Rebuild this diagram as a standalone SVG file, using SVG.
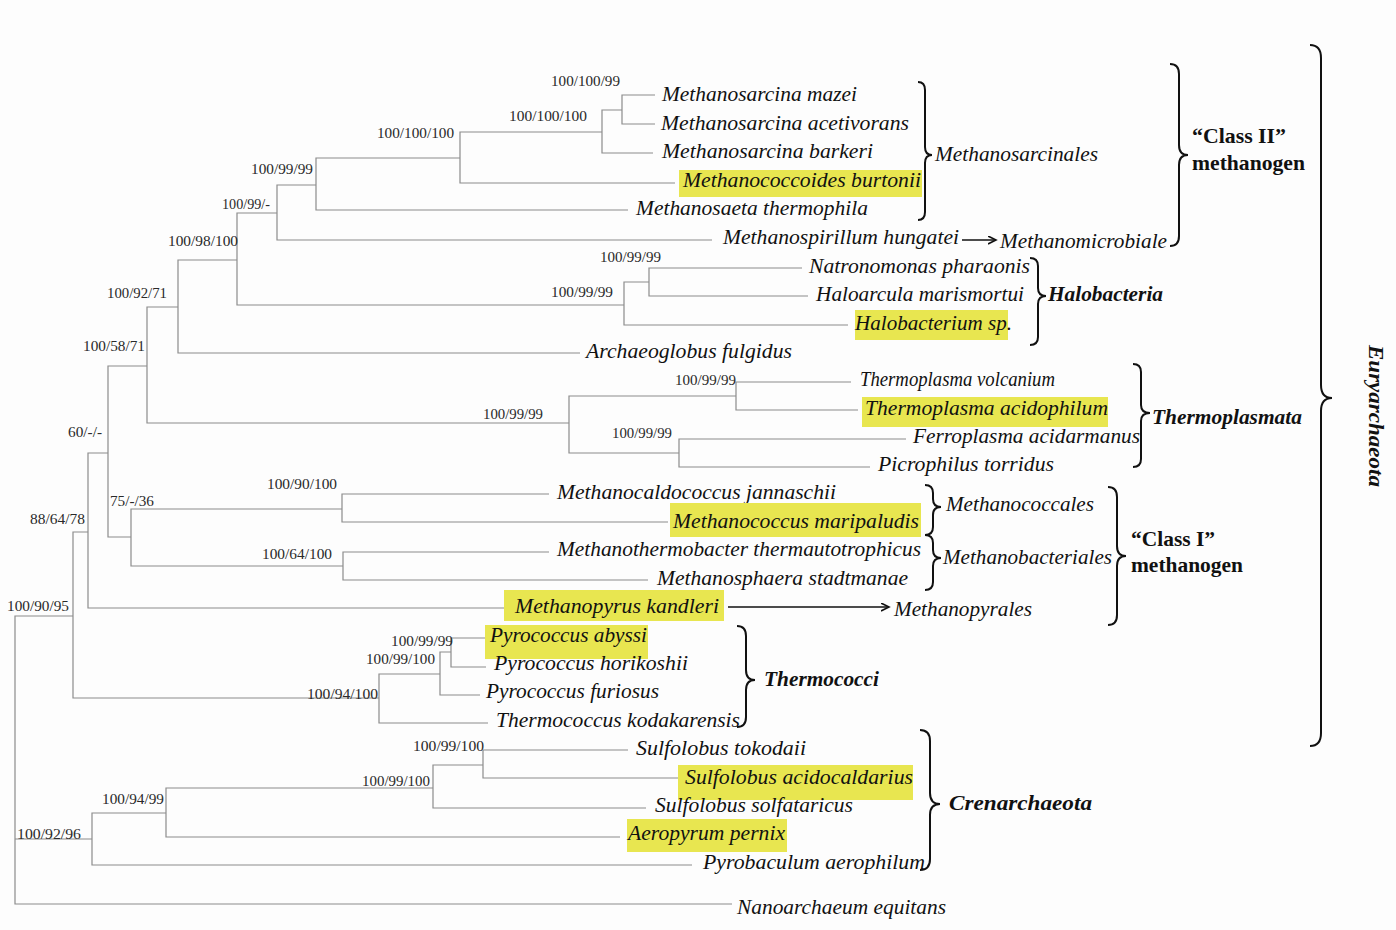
<svg xmlns="http://www.w3.org/2000/svg" width="1396" height="930" viewBox="0 0 1396 930">
<defs>
<style>
.br{fill:none;stroke:#8c8c8c;stroke-width:1.2}
.bs{font-family:"Liberation Serif",serif;font-size:14px;fill:#2a2a2a}
.tx{font-family:"Liberation Serif",serif;font-style:italic;font-size:21px;fill:#111}
.hl{fill:#e8e650}
.gi{font-family:"Liberation Serif",serif;font-style:italic;font-size:21px;fill:#111}
.gb{font-family:"Liberation Serif",serif;font-style:italic;font-weight:bold;font-size:21px;fill:#111}
.gc{font-family:"Liberation Serif",serif;font-weight:bold;font-size:21px;fill:#111}
.brace{fill:none;stroke:#111;stroke-width:2}
.arr{fill:none;stroke:#111;stroke-width:1.6}
</style>
<marker id="ah" markerWidth="10" markerHeight="10" refX="8" refY="4" orient="auto" markerUnits="userSpaceOnUse">
<path d="M0,0 L8,4 L0,8" fill="none" stroke="#111" stroke-width="1.6"/>
</marker>
</defs>
<rect width="1396" height="930" fill="#fdfdfd"/>

<g id="connectors">
<path class="br" d="M655,95 H622 V124 H655"/>
<path class="br" d="M622,110 H602 V153 H653"/>
<path class="br" d="M602,132 H460 V183 H675"/>
<path class="br" d="M460,158 H316 V210 H628"/>
<path class="br" d="M316,185 H277 V240 H712"/>
<path class="br" d="M802,268 H649 V296 H808"/>
<path class="br" d="M649,282 H624 V325 H848"/>
<path class="br" d="M277,213 H237 V305 H624"/>
<path class="br" d="M237,260 H178 V353 H580"/>
<path class="br" d="M851,382 H736 V410 H858"/>
<path class="br" d="M906,439 H679 V467 H870"/>
<path class="br" d="M736,396 H569 V453 H679"/>
<path class="br" d="M178,307 H147 V423 H569"/>
<path class="br" d="M549,494 H342 V522 H668"/>
<path class="br" d="M549,552 H343 V580 H648"/>
<path class="br" d="M342,509 H131 V566 H343"/>
<path class="br" d="M147,366 H108 V537 H131"/>
<path class="br" d="M108,453 H88 V608 H505"/>
<path class="br" d="M485,638 H451 V667 H486"/>
<path class="br" d="M451,652 H440 V695 H480"/>
<path class="br" d="M440,674 H379 V723 H488"/>
<path class="br" d="M88,532 H73 V698 H379"/>
<path class="br" d="M628,750 H483 V778 H678"/>
<path class="br" d="M483,765 H433 V808 H646"/>
<path class="br" d="M433,788 H166 V837 H620"/>
<path class="br" d="M166,813 H92 V865 H692"/>
<path class="br" d="M73,616 H15 V904 H732 M15,839 H92"/>
<line class="arr" x1="962" y1="240" x2="996" y2="240" marker-end="url(#ah)"/>
<line class="arr" x1="728" y1="607" x2="889" y2="607" marker-end="url(#ah)"/>
</g>

<g id="support-values">
<text class="bs" x="551" y="86" textLength="69" lengthAdjust="spacingAndGlyphs">100/100/99</text>
<text class="bs" x="509" y="121" textLength="78" lengthAdjust="spacingAndGlyphs">100/100/100</text>
<text class="bs" x="377" y="138" textLength="77" lengthAdjust="spacingAndGlyphs">100/100/100</text>
<text class="bs" x="251" y="174" textLength="62" lengthAdjust="spacingAndGlyphs">100/99/99</text>
<text class="bs" x="222" y="209" textLength="48" lengthAdjust="spacingAndGlyphs">100/99/-</text>
<text class="bs" x="168" y="246" textLength="70" lengthAdjust="spacingAndGlyphs">100/98/100</text>
<text class="bs" x="107" y="298" textLength="60" lengthAdjust="spacingAndGlyphs">100/92/71</text>
<text class="bs" x="83" y="351" textLength="62" lengthAdjust="spacingAndGlyphs">100/58/71</text>
<text class="bs" x="600" y="262" textLength="61" lengthAdjust="spacingAndGlyphs">100/99/99</text>
<text class="bs" x="551" y="297" textLength="62" lengthAdjust="spacingAndGlyphs">100/99/99</text>
<text class="bs" x="675" y="385" textLength="61" lengthAdjust="spacingAndGlyphs">100/99/99</text>
<text class="bs" x="483" y="419" textLength="60" lengthAdjust="spacingAndGlyphs">100/99/99</text>
<text class="bs" x="612" y="438" textLength="60" lengthAdjust="spacingAndGlyphs">100/99/99</text>
<text class="bs" x="68" y="437" textLength="34" lengthAdjust="spacingAndGlyphs">60/-/-</text>
<text class="bs" x="110" y="506" textLength="44" lengthAdjust="spacingAndGlyphs">75/-/36</text>
<text class="bs" x="30" y="524" textLength="55" lengthAdjust="spacingAndGlyphs">88/64/78</text>
<text class="bs" x="267" y="489" textLength="70" lengthAdjust="spacingAndGlyphs">100/90/100</text>
<text class="bs" x="262" y="559" textLength="70" lengthAdjust="spacingAndGlyphs">100/64/100</text>
<text class="bs" x="7" y="611" textLength="62" lengthAdjust="spacingAndGlyphs">100/90/95</text>
<text class="bs" x="391" y="646" textLength="62" lengthAdjust="spacingAndGlyphs">100/99/99</text>
<text class="bs" x="366" y="664" textLength="69" lengthAdjust="spacingAndGlyphs">100/99/100</text>
<text class="bs" x="307" y="699" textLength="71" lengthAdjust="spacingAndGlyphs">100/94/100</text>
<text class="bs" x="413" y="751" textLength="71" lengthAdjust="spacingAndGlyphs">100/99/100</text>
<text class="bs" x="362" y="786" textLength="68" lengthAdjust="spacingAndGlyphs">100/99/100</text>
<text class="bs" x="102" y="804" textLength="62" lengthAdjust="spacingAndGlyphs">100/94/99</text>
<text class="bs" x="17" y="839" textLength="64" lengthAdjust="spacingAndGlyphs">100/92/96</text>
</g>

<g id="taxon-mazei"><text class="tx" x="662" y="101" textLength="195" lengthAdjust="spacingAndGlyphs">Methanosarcina mazei</text></g>
<g id="taxon-acetivorans"><text class="tx" x="661" y="130" textLength="248" lengthAdjust="spacingAndGlyphs">Methanosarcina acetivorans</text></g>
<g id="taxon-barkeri"><text class="tx" x="662" y="158" textLength="211" lengthAdjust="spacingAndGlyphs">Methanosarcina barkeri</text></g>
<g id="taxon-burtonii"><rect class="hl" x="679" y="170" width="243" height="27"/><text class="tx" x="683" y="187" textLength="238" lengthAdjust="spacingAndGlyphs">Methanococcoides burtonii</text></g>
<g id="taxon-thermophila"><text class="tx" x="636" y="215" textLength="232" lengthAdjust="spacingAndGlyphs">Methanosaeta thermophila</text></g>
<g id="taxon-hungatei"><text class="tx" x="723" y="244" textLength="236" lengthAdjust="spacingAndGlyphs">Methanospirillum hungatei</text></g>
<g id="taxon-pharaonis"><text class="tx" x="809" y="273" textLength="221" lengthAdjust="spacingAndGlyphs">Natronomonas pharaonis</text></g>
<g id="taxon-marismortui"><text class="tx" x="816" y="301" textLength="208" lengthAdjust="spacingAndGlyphs">Haloarcula marismortui</text></g>
<g id="taxon-halobacterium"><rect class="hl" x="855" y="310" width="153" height="30"/><text class="tx" x="855" y="330" textLength="157" lengthAdjust="spacingAndGlyphs">Halobacterium sp.</text></g>
<g id="taxon-fulgidus"><text class="tx" x="586" y="358" textLength="206" lengthAdjust="spacingAndGlyphs">Archaeoglobus fulgidus</text></g>
<g id="taxon-volcanium"><text class="tx" x="860" y="386" textLength="195" lengthAdjust="spacingAndGlyphs">Thermoplasma volcanium</text></g>
<g id="taxon-acidophilum"><rect class="hl" x="862" y="397" width="246" height="30"/><text class="tx" x="865" y="415" textLength="243" lengthAdjust="spacingAndGlyphs">Thermoplasma acidophilum</text></g>
<g id="taxon-acidarmanus"><text class="tx" x="913" y="443" textLength="227" lengthAdjust="spacingAndGlyphs">Ferroplasma acidarmanus</text></g>
<g id="taxon-torridus"><text class="tx" x="878" y="471" textLength="176" lengthAdjust="spacingAndGlyphs">Picrophilus torridus</text></g>
<g id="taxon-jannaschii"><text class="tx" x="557" y="499" textLength="279" lengthAdjust="spacingAndGlyphs">Methanocaldococcus jannaschii</text></g>
<g id="taxon-maripaludis"><rect class="hl" x="670" y="503" width="251" height="34"/><text class="tx" x="673" y="528" textLength="246" lengthAdjust="spacingAndGlyphs">Methanococcus maripaludis</text></g>
<g id="taxon-thermautotrophicus"><text class="tx" x="557" y="556" textLength="364" lengthAdjust="spacingAndGlyphs">Methanothermobacter thermautotrophicus</text></g>
<g id="taxon-stadtmanae"><text class="tx" x="657" y="585" textLength="251" lengthAdjust="spacingAndGlyphs">Methanosphaera stadtmanae</text></g>
<g id="taxon-kandleri"><rect class="hl" x="504" y="590" width="220" height="31"/><text class="tx" x="515" y="613" textLength="204" lengthAdjust="spacingAndGlyphs">Methanopyrus kandleri</text></g>
<g id="taxon-abyssi"><rect class="hl" x="485" y="625" width="163" height="34"/><text class="tx" x="490" y="642" textLength="157" lengthAdjust="spacingAndGlyphs">Pyrococcus abyssi</text></g>
<g id="taxon-horikoshii"><text class="tx" x="494" y="670" textLength="194" lengthAdjust="spacingAndGlyphs">Pyrococcus horikoshii</text></g>
<g id="taxon-furiosus"><text class="tx" x="486" y="698" textLength="173" lengthAdjust="spacingAndGlyphs">Pyrococcus furiosus</text></g>
<g id="taxon-kodakarensis"><text class="tx" x="496" y="727" textLength="244" lengthAdjust="spacingAndGlyphs">Thermococcus kodakarensis</text></g>
<g id="taxon-tokodaii"><text class="tx" x="636" y="755" textLength="170" lengthAdjust="spacingAndGlyphs">Sulfolobus tokodaii</text></g>
<g id="taxon-acidocaldarius"><rect class="hl" x="678" y="765" width="235" height="35"/><text class="tx" x="685" y="784" textLength="228" lengthAdjust="spacingAndGlyphs">Sulfolobus acidocaldarius</text></g>
<g id="taxon-solfataricus"><text class="tx" x="655" y="812" textLength="198" lengthAdjust="spacingAndGlyphs">Sulfolobus solfataricus</text></g>
<g id="taxon-pernix"><rect class="hl" x="627" y="819" width="160" height="33"/><text class="tx" x="628" y="840" textLength="157" lengthAdjust="spacingAndGlyphs">Aeropyrum pernix</text></g>
<g id="taxon-aerophilum"><text class="tx" x="703" y="869" textLength="222" lengthAdjust="spacingAndGlyphs">Pyrobaculum aerophilum</text></g>
<g id="taxon-equitans"><text class="tx" x="737" y="914" textLength="209" lengthAdjust="spacingAndGlyphs">Nanoarchaeum equitans</text></g>

<g id="group-methanosarcinales">
<path class="brace" d="M918,82 Q925,82 925,90 L925,147 Q925,155 932,155 Q925,155 925,163 L925,212 Q925,220 918,220"/>
<text class="gi" x="935" y="161" textLength="163" lengthAdjust="spacingAndGlyphs">Methanosarcinales</text>
</g>
<g id="group-methanomicrobiale">
<text class="gi" x="1000" y="248" textLength="167" lengthAdjust="spacingAndGlyphs">Methanomicrobiale</text>
</g>
<g id="group-class2">
<path class="brace" d="M1170,64 Q1179,64 1179,74 L1179,145 Q1179,155 1188,155 Q1179,155 1179,165 L1179,236 Q1179,246 1170,246"/>
<text class="gc" x="1192" y="143" textLength="94" lengthAdjust="spacingAndGlyphs">“Class II”</text>
<text class="gc" x="1192" y="170" textLength="113" lengthAdjust="spacingAndGlyphs">methanogen</text>
</g>
<g id="group-halobacteria">
<path class="brace" d="M1030,258 Q1038,258 1038,266 L1038,288 Q1038,296 1046,296 Q1038,296 1038,304 L1038,337 Q1038,345 1030,345"/>
<text class="gb" x="1048" y="301" textLength="115" lengthAdjust="spacingAndGlyphs">Halobacteria</text>
</g>
<g id="group-thermoplasmata">
<path class="brace" d="M1133,364 Q1141,364 1141,372 L1141,405 Q1141,413 1150,413 Q1141,413 1141,421 L1141,459 Q1141,467 1133,467"/>
<text class="gb" x="1152" y="424" textLength="150" lengthAdjust="spacingAndGlyphs">Thermoplasmata</text>
</g>
<g id="group-methanococcales">
<path class="brace" d="M925,485 Q933,485 933,493 L933,499 Q933,507 941,507 Q933,507 933,515 L933,527 Q933,535 925,535"/>
<text class="gi" x="946" y="511" textLength="148" lengthAdjust="spacingAndGlyphs">Methanococcales</text>
</g>
<g id="group-methanobacteriales">
<path class="brace" d="M925,535 Q933,535 933,543 L933,550 Q933,558 941,558 Q933,558 933,566 L933,582 Q933,590 925,590"/>
<text class="gi" x="943" y="564" textLength="169" lengthAdjust="spacingAndGlyphs">Methanobacteriales</text>
</g>
<g id="group-class1">
<path class="brace" d="M1108,487 Q1117,487 1117,497 L1117,546 Q1117,556 1126,556 Q1117,556 1117,566 L1117,615 Q1117,625 1108,625"/>
<text class="gc" x="1131" y="546" textLength="84" lengthAdjust="spacingAndGlyphs">“Class I”</text>
<text class="gc" x="1131" y="572" textLength="112" lengthAdjust="spacingAndGlyphs">methanogen</text>
</g>
<g id="group-methanopyrales">
<text class="gi" x="894" y="616" textLength="138" lengthAdjust="spacingAndGlyphs">Methanopyrales</text>
</g>
<g id="group-thermococci">
<path class="brace" d="M737,626 Q746,626 746,636 L746,670 Q746,680 755,680 Q746,680 746,690 L746,717 Q746,727 737,727"/>
<text class="gb" x="764" y="686" textLength="115" lengthAdjust="spacingAndGlyphs">Thermococci</text>
</g>
<g id="group-crenarchaeota">
<path class="brace" d="M920,730 Q930,730 930,741 L930,793 Q930,804 940,804 Q930,804 930,815 L930,859 Q930,870 920,870"/>
<text class="gb" x="949" y="810" textLength="143" lengthAdjust="spacingAndGlyphs">Crenarchaeota</text>
</g>
<g id="group-euryarchaeota">
<path class="brace" d="M1310,45 Q1321,45 1321,58 L1321,385 Q1321,398 1332,398 Q1321,398 1321,411 L1321,733 Q1321,746 1310,746"/>
<text class="gb" transform="translate(1369,416) rotate(90)" x="-71" y="0" textLength="142" lengthAdjust="spacingAndGlyphs">Euryarchaeota</text>
</g>
</svg>
